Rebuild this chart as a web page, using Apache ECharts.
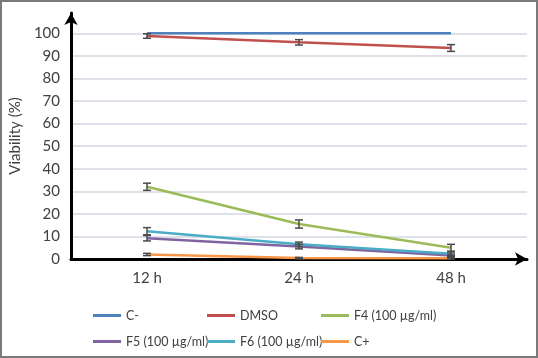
<!DOCTYPE html>
<html>
<head>
<meta charset="utf-8">
<script src="https://cdn.jsdelivr.net/npm/echarts@6/dist/echarts.min.js"></script>
<style>
  body { margin: 0; background: #fff; }
  #chart { width: 538px; height: 358px; }
  #frame { position: absolute; left: 0; top: 0; width: 538px; height: 358px; box-sizing: border-box; border: 2px solid #7a7a7a; pointer-events: none; }
</style>
</head>
<body>
<div id="chart"></div>
<div id="frame"></div>
<script>
// categories
var times = ['12 h', '24 h', '48 h'];

// viability (%) per treatment
var cNeg = [100, 100, 100];
var dmso = [98.8, 96, 93.5];
var f4 = [32, 15.5, 5];
var f5 = [9.2, 5.5, 1.6];
var f6 = [12.3, 6.5, 2.3];
var cPos = [2, 0.4, 0.3];

// error bar half-widths
var dmsoErr = [1, 1.2, 1.5];
var f4Err = [1.6, 1.8, 1.5];
var f5Err = [1.2, 1, 0.6];
var f6Err = [1.6, 1, 0.8];
var cPosErr = [0.5, 0.3, 0.3];

var names = ['C-', 'DMSO', 'F4 (100 µg/ml)', 'F5 (100 µg/ml)', 'F6 (100 µg/ml)', 'C+'];
var colors = ['#4f81bd', '#c0504d', '#9bbb59', '#8064a2', '#4bacc6', '#f79646'];

var errData = [];
[[dmso, dmsoErr], [f4, f4Err], [f5, f5Err], [f6, f6Err], [cPos, cPosErr]].forEach(function (p) {
    for (var i = 0; i < times.length; i++) {
        errData.push([i, p[0][i], p[1][i]]);
    }
});

function renderErr(params, api) {
    var x = api.value(0), y = api.value(1), e = api.value(2);
    var hi = api.coord([x, y + e]);
    var lo = api.coord([x, y - e]);
    var w = 4;
    var st = {stroke: '#4a4a4a', lineWidth: 1.5};
    return {
        type: 'group',
        children: [
            {type: 'line', shape: {x1: hi[0], y1: hi[1], x2: lo[0], y2: lo[1]}, style: st},
            {type: 'line', shape: {x1: hi[0] - w, y1: hi[1], x2: hi[0] + w, y2: hi[1]}, style: st},
            {type: 'line', shape: {x1: lo[0] - w, y1: lo[1], x2: lo[0] + w, y2: lo[1]}, style: st}
        ]
    };
}

var seriesData = [cNeg, dmso, f4, f5, f6, cPos];
var series = seriesData.map(function (d, i) {
    return {
        name: names[i],
        type: 'line',
        data: d,
        showSymbol: false,
        symbol: 'none',
        lineStyle: {width: 2.5, color: colors[i]},
        itemStyle: {color: colors[i]},
        z: 3
    };
});
series.push({
    name: 'err',
    type: 'custom',
    renderItem: renderErr,
    data: errData,
    z: 5,
    silent: true
});

var gridColors = [];
for (var k = 0; k < 11; k++) gridColors.push('#d3d7e0');
gridColors.push('rgba(0,0,0,0)');

// one legend per item so the three columns line up
var legends = names.map(function (n, i) {
    return {
        data: [n],
        left: 93 + (i % 3) * 114,
        top: i < 3 ? 309 : 335,
        padding: 0,
        itemWidth: 28,
        itemHeight: 3,
        icon: 'rect',
        textStyle: {color: '#404040', fontSize: 12.5, fontFamily: 'Lato'}
    };
});

var myChart = echarts.init(document.getElementById('chart'));
var option = {
    animation: false,
    backgroundColor: '#fff',
    color: colors,
    grid: {left: 68, right: 11, top: 13, bottom: 99, containLabel: false},
    legend: legends,
    xAxis: {
        type: 'category',
        data: times,
        boundaryGap: true,
        axisLine: {lineStyle: {color: '#000', width: 3}, symbol: ['none', 'arrow'], symbolSize: [10, 12]},
        axisTick: {show: false},
        axisLabel: {color: '#404040', fontSize: 15, fontFamily: 'Lato', margin: 12}
    },
    yAxis: {
        type: 'value',
        min: 0,
        max: 109,
        interval: 10,
        name: 'Viability (%)',
        nameLocation: 'middle',
        nameGap: 46,
        nameTextStyle: {color: '#404040', fontSize: 15, fontFamily: 'Lato'},
        axisLine: {show: true, lineStyle: {color: '#000', width: 3}, symbol: ['none', 'arrow'], symbolSize: [10, 12]},
        axisTick: {show: false},
        axisLabel: {
            color: '#404040', fontSize: 15, fontFamily: 'Lato', margin: 11,
            formatter: function (v) { return v > 100 ? '' : v; }
        },
        splitLine: {lineStyle: {color: gridColors, width: 1.5}}
    },
    series: series
};
myChart.setOption(option);
</script>
</body>
</html>
